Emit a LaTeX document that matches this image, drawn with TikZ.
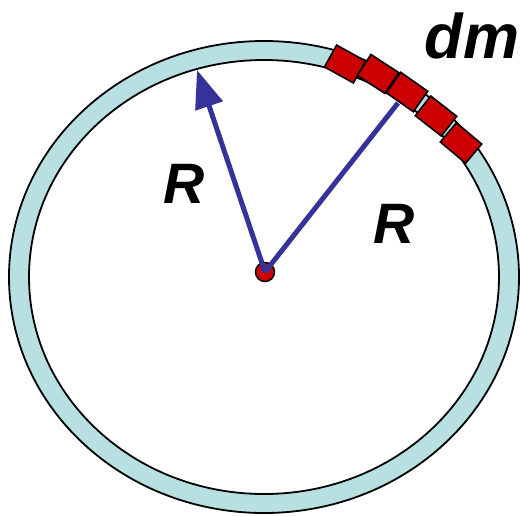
\documentclass[tikz,border=0pt]{standalone}
\usepackage{fontspec}
\setmainfont{Liberation Sans}
\usetikzlibrary{arrows.meta}
\definecolor{ringblue}{RGB}{184,223,226}
\definecolor{vecblue}{RGB}{51,51,153}
\definecolor{massred}{RGB}{204,0,0}
\tikzset{
  ring/.style={draw=black,line width=1.8pt,fill=ringblue,even odd rule},
  mass/.style={draw=black,line width=1.6pt,fill=massred,minimum width=33pt,minimum height=25pt,inner sep=0pt,rectangle},
  vec/.style={draw=vecblue,line width=5pt},
  lbl/.style={font=\fontsize{57}{57}\selectfont\bfseries\itshape,anchor=base,inner sep=0pt},
}
\begin{document}
\begin{tikzpicture}[x=1pt,y=-1pt]
\useasboundingbox (0,0) rectangle (520,515);
% ring
\path[ring] (264,277) ellipse [x radius=255,y radius=236]
            (264,277) ellipse [x radius=235,y radius=217];
% centre
\node[circle,draw=black,line width=1.5pt,fill=massred,minimum size=19pt,inner sep=0pt] (c) at (265,272) {};
\coordinate (tip) at (197,70);
\coordinate (end) at (398,103);
\draw[vec,-{Triangle[length=38pt,width=28pt]}] (c.center) -- (tip);
\draw[vec] (c.center) -- (end);
% masses
\node[mass,rotate=-29] (m1) at (345,64) {};
\node[mass,rotate=-33] (m2) at (378,74) {};
\node[mass,rotate=-35] (m3) at (407,92) {};
\node[mass,rotate=-38] (m4) at (436,116) {};
\node[mass,rotate=-40] (m5) at (461,143) {};
% labels
\node[lbl] (r1) at (184,203) {R};
\node[lbl] (r2) at (394,243) {R};
\node[lbl,font=\fontsize{63}{63}\selectfont\bfseries\itshape] (dm) at (472,58) {dm};
\end{tikzpicture}
\end{document}
